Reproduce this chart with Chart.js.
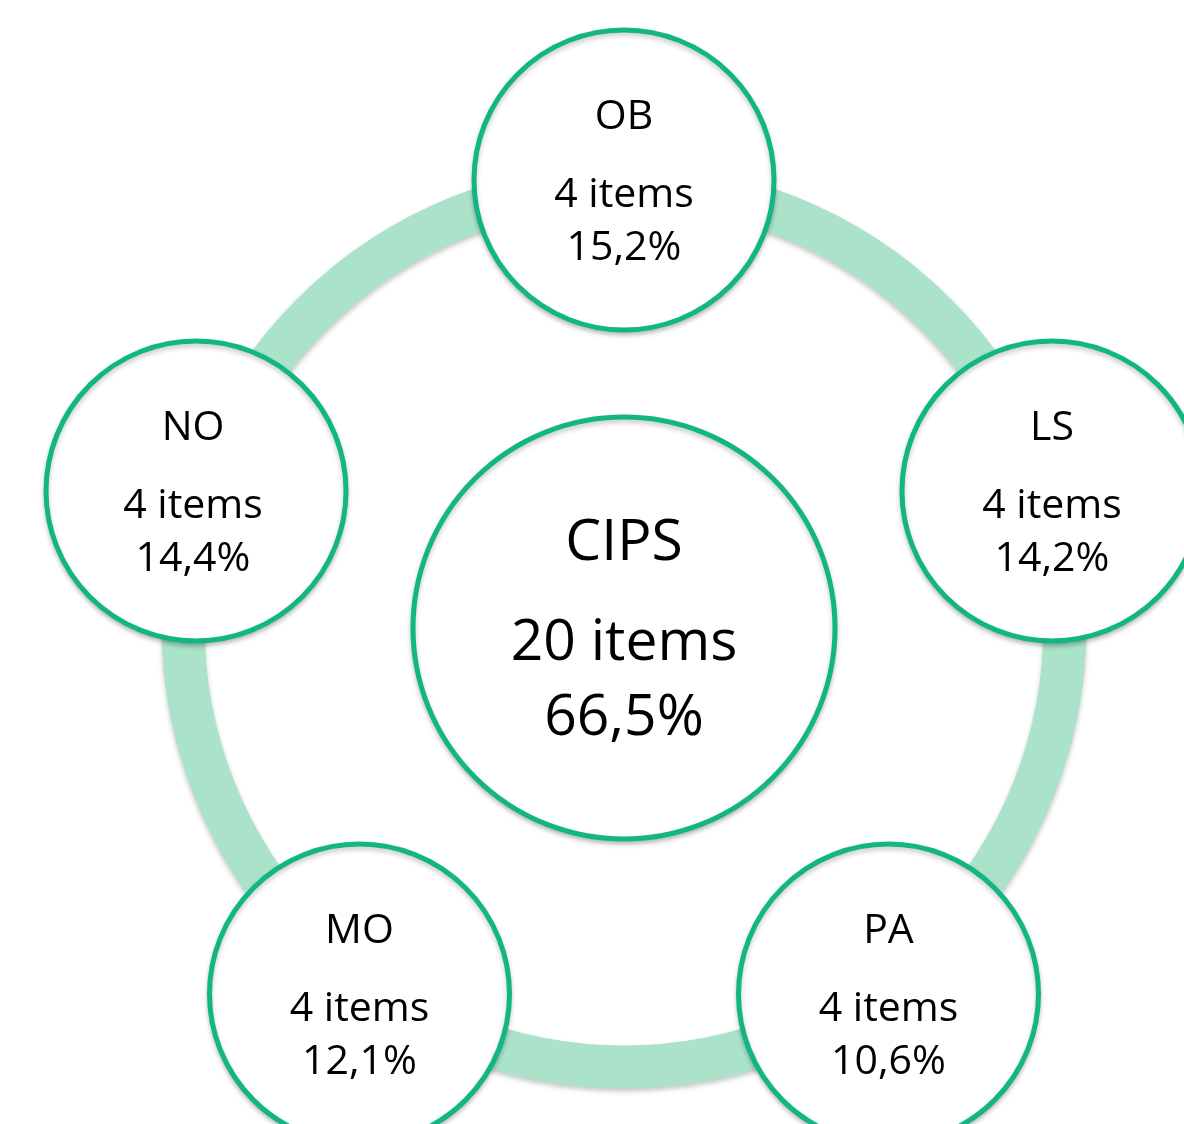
<!DOCTYPE html>
<html>
<head>
<meta charset="utf-8">
<script src="https://cdn.jsdelivr.net/npm/chart.js@4"></script>
<style>
  html, body { margin: 0; padding: 0; background: #ffffff; }
  #wrap { width: 1184px; height: 1124px; }
</style>
</head>
<body>
<div id="wrap"><canvas id="cipsChart"></canvas></div>
<script>
// Dati del diagramma
const centerLabel = 'CIPS';
const centerItems = 20;
const centerPercent = 66.5;
const subscales = ['OB', 'LS', 'PA', 'MO', 'NO'];
const subscaleItems = [4, 4, 4, 4, 4];
const subscalePercent = [15.2, 14.2, 10.6, 12.1, 14.4];

// Colori e geometria (in pixel, asse = pixel)
const GREEN = '#12B584';
const RING = '#ABE3CA';
const W = 1184, H = 1124;
const CX = 624, CY = 630, R = 450;

const fmtPct = v => v.toFixed(1).replace('.', ',') + '%';

// posizioni dei nodi sul pentagono (partendo dall'alto, in senso orario)
const nodePoints = subscales.map((s, i) => {
    const a = i * 2 * Math.PI / subscales.length;
    return { x: CX + R * Math.sin(a), y: CY - R * Math.cos(a) };
});

const FONT = '"Open Sans", Lato, sans-serif';

// Testi dentro i cerchi
const labelsPlugin = {
    id: 'labels',
    afterDatasetsDraw(chart) {
        const { ctx, scales: { x, y } } = chart;
        ctx.save();
        ctx.fillStyle = '#000';
        ctx.textAlign = 'center';
        ctx.textBaseline = 'middle';
        nodePoints.forEach((p, i) => {
            const px = x.getPixelForValue(p.x) - (i === 4 ? 3 : 0), py = y.getPixelForValue(p.y);
            ctx.font = '41px ' + FONT;
            ctx.fillText(subscales[i], px, py - 63);
            ctx.fillText(subscaleItems[i] + ' items', px, py + 15);
            ctx.fillText(fmtPct(subscalePercent[i]), px, py + 68);
        });
        const cx = x.getPixelForValue(CX), cy = y.getPixelForValue(628);
        ctx.font = '57px ' + FONT;
        ctx.fillText(centerLabel, cx, cy - 84);
        ctx.fillText(centerItems + ' items', cx, cy + 16);
        ctx.fillText(fmtPct(centerPercent), cx, cy + 91);
        ctx.restore();
    }
};

// Ombra leggera sotto anello e cerchi
const shadowPlugin = {
    id: 'shadow',
    beforeDatasetDraw(chart) {
        const ctx = chart.ctx;
        ctx.save();
        ctx.shadowColor = 'rgba(0,0,0,0.22)';
        ctx.shadowBlur = 5;
        ctx.shadowOffsetY = 3;
    },
    afterDatasetDraw(chart) {
        chart.ctx.restore();
    }
};

new Chart(document.getElementById('cipsChart'), {
    type: 'scatter',
    data: {
        datasets: [
            {
                label: 'Sottoscale',
                data: nodePoints,
                order: 1,
                pointRadius: 150,
                pointBorderWidth: 5,
                pointBackgroundColor: '#ffffff',
                pointBorderColor: GREEN
            },
            {
                label: centerLabel,
                data: [{ x: CX, y: 628 }],
                order: 2,
                pointRadius: 211,
                pointBorderWidth: 5,
                pointBackgroundColor: '#ffffff',
                pointBorderColor: GREEN
            },
            {
                label: 'Anello',
                data: [{ x: CX, y: 626 }],
                order: 3,
                pointRadius: 441,
                pointBorderWidth: 43,
                pointBackgroundColor: 'rgba(0,0,0,0)',
                pointBorderColor: RING
            }
        ]
    },
    options: {
        responsive: true,
        maintainAspectRatio: false,
        animation: false,
        events: [],
        layout: { padding: 0, autoPadding: false },
        plugins: {
            legend: { display: false },
            tooltip: { enabled: false }
        },
        scales: {
            x: { type: 'linear', min: 0, max: W, display: false },
            y: { type: 'linear', min: 0, max: H, reverse: true, display: false }
        }
    },
    plugins: [shadowPlugin, labelsPlugin]
});
</script>
</body>
</html>
